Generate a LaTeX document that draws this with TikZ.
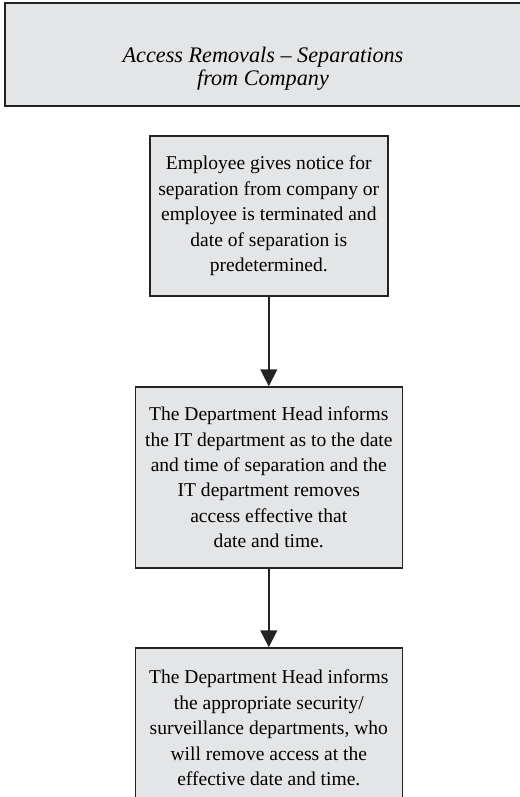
\documentclass[tikz,border=0pt]{standalone}
\usepackage{fontspec}
\setmainfont{Liberation Serif}
\usetikzlibrary{arrows.meta, positioning}
\definecolor{boxgray}{RGB}{228,229,231}
\definecolor{edgegray}{RGB}{35,35,35}

\begin{document}
\begin{tikzpicture}[
    stepbox/.style={draw=edgegray, line width=1.1pt, fill=boxgray, align=center,
        font=\fontsize{13.9}{18.1}\selectfont, inner sep=0pt},
    flow/.style={-{Triangle[length=12pt, width=12pt]}, line width=1pt, draw=edgegray}
]
    % Cadre de la page
    \useasboundingbox (0,0) rectangle (13,-19.925);

    % Titre
    \draw[edgegray, line width=1.8pt, fill=boxgray] (0.125,-0.075) rectangle (13.1,-2.65);
    \node[font=\fontsize{15.8}{16.6}\selectfont\itshape, align=center] (title) at (6.575,-1.72)
        {Access Removals -- Separations\\from Company};

    % Etapes
    \node[stepbox, minimum width=5.95cm, minimum height=4cm] (notice) at (6.72,-5.4)
        {Employee gives notice for\\separation from company or\\employee is terminated and\\date of separation is\\predetermined.};
    \node[stepbox, minimum width=6.675cm, minimum height=4.525cm] (itdept) at (6.72,-11.9375)
        {The Department Head informs\\the IT department as to the date\\and time of separation and the\\IT department removes\\access effective that\\date and time.};
    \node[stepbox, minimum width=6.675cm, minimum height=4cm] (security) at (6.72,-18.2)
        {The Department Head informs\\the appropriate security/\\surveillance departments, who\\will remove access at the\\effective date and time.};

    % Fleches
    \draw[flow] (notice) -- (itdept);
    \draw[flow] (itdept) -- (security);
\end{tikzpicture}
\end{document}
